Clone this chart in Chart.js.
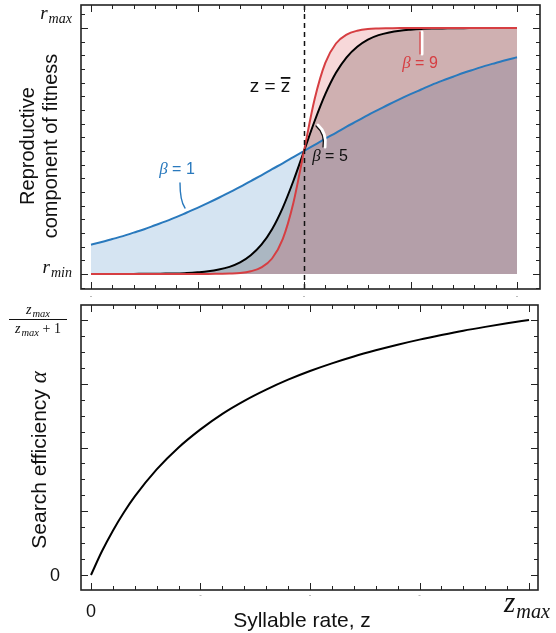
<!DOCTYPE html>
<html>
<head>
<meta charset="utf-8">
<script src="https://cdn.jsdelivr.net/npm/chart.js@4.4.0/dist/chart.umd.min.js"></script>
<style>
  html, body { margin: 0; padding: 0; background: #fff; }
  #wrap { position: relative; width: 556px; height: 633px; }
  canvas { position: absolute; left: 0; }
  #top { top: 0; }
  #bot { top: 300px; }
</style>
</head>
<body>
<div id="wrap">
  <canvas id="top" width="556" height="300"></canvas>
  <canvas id="bot" width="556" height="333"></canvas>
</div>
<script>
// syllable rate, normalised 0 = z=0 .. 1 = zmax
const zTop = [0, 0.025, 0.05, 0.075, 0.1, 0.125, 0.15, 0.175, 0.2, 0.225, 0.25, 0.275, 0.3, 0.325, 0.35, 0.375, 0.4, 0.425, 0.45, 0.475, 0.5,
  0.525, 0.55, 0.575, 0.6, 0.625, 0.65, 0.675, 0.7, 0.725, 0.75, 0.775, 0.8, 0.825, 0.85, 0.875, 0.9, 0.925, 0.95, 0.975, 1];
const zBar = 0.5;

// reproductive component, 0 = r_min .. 1 = r_max
const beta1 = [0.119, 0.130, 0.142, 0.154, 0.168, 0.182, 0.198, 0.214, 0.231, 0.250, 0.269, 0.289, 0.310, 0.332, 0.354, 0.378, 0.401, 0.426, 0.450, 0.475, 0.500,
  0.525, 0.550, 0.574, 0.599, 0.622, 0.646, 0.668, 0.690, 0.711, 0.731, 0.750, 0.769, 0.786, 0.802, 0.818, 0.832, 0.846, 0.858, 0.870, 0.881];
const beta5 = [0.000, 0.000, 0.000, 0.000, 0.000, 0.001, 0.001, 0.002, 0.002, 0.004, 0.007, 0.011, 0.018, 0.029, 0.047, 0.076, 0.119, 0.182, 0.269, 0.378, 0.500,
  0.622, 0.731, 0.818, 0.881, 0.924, 0.953, 0.971, 0.982, 0.989, 0.993, 0.996, 0.998, 0.998, 0.999, 0.999, 1.000, 1.000, 1.000, 1.000, 1.000];
const beta9 = [0.000, 0.000, 0.000, 0.000, 0.000, 0.000, 0.000, 0.000, 0.000, 0.000, 0.000, 0.000, 0.001, 0.002, 0.004, 0.011, 0.027, 0.063, 0.142, 0.289, 0.500,
  0.711, 0.858, 0.937, 0.973, 0.989, 0.996, 0.998, 0.999, 1.000, 1.000, 1.000, 1.000, 1.000, 1.000, 1.000, 1.000, 1.000, 1.000, 1.000, 1.000];

// search efficiency, 0 .. 1 = zmax/(zmax+1)
const zBot = [0, 0.025, 0.05, 0.075, 0.1, 0.15, 0.2, 0.25, 0.3, 0.35, 0.4, 0.45, 0.5, 0.55, 0.6, 0.65, 0.7, 0.75, 0.8, 0.85, 0.9, 0.95, 1];
const alpha = [0, 0.093, 0.174, 0.245, 0.308, 0.414, 0.500, 0.571, 0.632, 0.683, 0.727, 0.766, 0.800, 0.830, 0.857, 0.881, 0.903, 0.923, 0.941, 0.958, 0.973, 0.987, 1.000];

const RED = 'rgb(214,62,66)';
const BLUE = 'rgb(41,121,189)';
const SANS = '"Liberation Sans", Arial, sans-serif';
const SERIF = '"Liberation Serif", "DejaVu Serif", serif';

function pts(xs, ys) { return xs.map((x, i) => ({ x: x, y: ys[i] })); }

function tickList(from, to, step, majorEvery) {
  const out = [];
  for (let i = from; i <= to; i++) out.push({ v: i * step, major: i % majorEvery === 0 });
  return out;
}

function frame(chart, xt, yt) {
  const ctx = chart.ctx, ca = chart.chartArea;
  const xs = chart.scales.x, ys = chart.scales.y;
  ctx.save();
  ctx.strokeStyle = '#222';
  ctx.lineWidth = 1;
  ctx.beginPath();
  xt.forEach(t => {
    const p = Math.round(xs.getPixelForValue(t.v)) + 0.5, l = t.major ? 7 : 4;
    ctx.moveTo(p, ca.bottom); ctx.lineTo(p, ca.bottom - l);
    ctx.moveTo(p, ca.top); ctx.lineTo(p, ca.top + l);
  });
  yt.forEach(t => {
    const p = Math.round(ys.getPixelForValue(t.v)) + 0.5, l = t.major ? 7 : 4;
    ctx.moveTo(ca.left, p); ctx.lineTo(ca.left + l, p);
    ctx.moveTo(ca.right, p); ctx.lineTo(ca.right - l, p);
  });
  ctx.stroke();
  ctx.lineWidth = 1.6;
  ctx.strokeRect(ca.left, ca.top, ca.right - ca.left, ca.bottom - ca.top);
  ctx.restore();
}

// italic math symbol with subscript
function mathSub(ctx, base, sub, x, y, size, align, subScale) {
  const ss = size * (subScale || 0.72);
  ctx.font = 'italic ' + size + 'px ' + SERIF;
  const wb = ctx.measureText(base).width;
  ctx.font = 'italic ' + ss + 'px ' + SERIF;
  const ws = ctx.measureText(sub).width;
  let x0 = x;
  if (align === 'right') x0 = x - wb - ws - 1;
  if (align === 'center') x0 = x - (wb + ws + 1) / 2;
  ctx.textAlign = 'left';
  ctx.textBaseline = 'alphabetic';
  ctx.font = 'italic ' + size + 'px ' + SERIF;
  ctx.fillText(base, x0, y);
  ctx.font = 'italic ' + ss + 'px ' + SERIF;
  ctx.fillText(sub, x0 + wb + 1, y + size * 0.22);
  return wb + ws + 1;
}

function betaLabel(ctx, val, cx, cy, color) {
  ctx.fillStyle = color;
  ctx.textBaseline = 'middle';
  ctx.textAlign = 'left';
  ctx.font = 'italic 17px ' + SERIF;
  const wb = ctx.measureText('\u03b2').width;
  ctx.font = '16px ' + SANS;
  const wr = ctx.measureText(' = ' + val).width;
  const x0 = cx - (wb + wr) / 2;
  ctx.font = 'italic 17px ' + SERIF;
  ctx.fillText('\u03b2', x0, cy);
  ctx.font = '16px ' + SANS;
  ctx.fillText(' = ' + val, x0 + wb, cy);
}

const topPlugin = {
  id: 'topDeco',
  afterDatasetsDraw(chart) {
    const ctx = chart.ctx, ca = chart.chartArea, xs = chart.scales.x;
    ctx.save();
    // z = zbar dashed line
    const xb = Math.round(xs.getPixelForValue(zBar)) + 0.5;
    ctx.strokeStyle = '#111';
    ctx.lineWidth = 1.5;
    ctx.setLineDash([5, 4]);
    ctx.beginPath(); ctx.moveTo(xb, ca.top); ctx.lineTo(xb, ca.bottom); ctx.stroke();
    ctx.setLineDash([]);

    // callouts
    ctx.lineCap = 'round';
    ctx.strokeStyle = BLUE; ctx.lineWidth = 1.4;
    ctx.beginPath(); ctx.moveTo(180, 183); ctx.quadraticCurveTo(180, 201, 185, 208); ctx.stroke();
    ctx.strokeStyle = '#fff'; ctx.lineWidth = 3;
    ctx.beginPath(); ctx.moveTo(318, 125); ctx.quadraticCurveTo(327, 133, 325, 147); ctx.stroke();
    ctx.strokeStyle = '#111'; ctx.lineWidth = 1.2;
    ctx.beginPath(); ctx.moveTo(316, 126); ctx.quadraticCurveTo(325, 134, 323, 147); ctx.stroke();
    ctx.strokeStyle = '#fff'; ctx.lineWidth = 3;
    ctx.beginPath(); ctx.moveTo(422, 32); ctx.lineTo(422, 54); ctx.stroke();
    ctx.strokeStyle = RED; ctx.lineWidth = 1.2;
    ctx.beginPath(); ctx.moveTo(420, 32); ctx.lineTo(420, 54); ctx.stroke();
    ctx.restore();
  },
  afterDraw(chart) {
    const ctx = chart.ctx, xs = chart.scales.x;
    frame(chart, tickList(0, 20, 0.05, 5), tickList(-1, 19, 1 / 18, 18));
    ctx.save();
    ctx.fillStyle = '#111';
    mathSub(ctx, 'r', 'max', 72, 19, 19, 'right', 0.74);
    mathSub(ctx, 'r', 'min', 72, 273, 19, 'right', 0.74);

    // y title
    ctx.save();
    ctx.translate(28, 146);
    ctx.rotate(-Math.PI / 2);
    ctx.font = '20px ' + SANS;
    ctx.textAlign = 'center';
    ctx.textBaseline = 'middle';
    ctx.fillText('Reproductive', 0, 0);
    ctx.fillText('component of fitness', 0, 23);
    ctx.restore();

    // z = zbar
    ctx.font = '19px ' + SANS;
    ctx.textBaseline = 'alphabetic';
    ctx.textAlign = 'left';
    const s1 = 'z = ';
    const w1 = ctx.measureText(s1).width, w2 = ctx.measureText('z').width;
    const x0 = 270 - (w1 + w2) / 2;
    ctx.fillText(s1, x0, 92);
    ctx.fillText('z', x0 + w1, 92);
    ctx.fillRect(x0 + w1, 77, w2, 1.8);

    betaLabel(ctx, '1', 177, 170, BLUE);
    betaLabel(ctx, '5', 330, 157, '#111');
    betaLabel(ctx, '9', 420, 64, RED);

    // faint tick-label remnants
    ctx.fillStyle = '#bbb';
    [0, 0.5, 1].forEach(v => ctx.fillRect(xs.getPixelForValue(v) - 1, 296, 2, 1));
    ctx.restore();
  }
};

const botPlugin = {
  id: 'botDeco',
  afterDraw(chart) {
    const ctx = chart.ctx, xs = chart.scales.x, ys = chart.scales.y;
    frame(chart, tickList(0, 20, 0.05, 5), tickList(0, 16, 1 / 16, 4));
    ctx.save();
    ctx.fillStyle = '#111';
    // y tick labels: zmax / (zmax + 1)
    const yTop = ys.getPixelForValue(1);
    ctx.fillRect(9, yTop - 1, 58, 1);
    mathSub(ctx, 'z', 'max', 38, yTop - 6, 14, 'center', 0.75);
    const w = mathSub(ctx, 'z', 'max', 0, -100, 14, 'left', 0.75);
    ctx.font = '14px ' + SERIF;
    const wp = ctx.measureText(' + 1').width;
    const dx = 38 - (w + wp) / 2;
    mathSub(ctx, 'z', 'max', dx, yTop + 13, 14, 'left', 0.75);
    ctx.font = '14px ' + SERIF;
    ctx.fillText(' + 1', dx + w, yTop + 13);

    ctx.font = '18px ' + SANS;
    ctx.textAlign = 'right';
    ctx.textBaseline = 'middle';
    ctx.fillText('0', 60, ys.getPixelForValue(0) + 1);

    // x tick labels
    ctx.textAlign = 'center';
    ctx.fillText('0', xs.getPixelForValue(0), 312);
    mathSub(ctx, 'z', 'max', 527, 312, 29, 'center', 0.7);

    // titles
    ctx.font = '21px ' + SANS;
    ctx.textAlign = 'center';
    ctx.textBaseline = 'middle';
    ctx.fillText('Syllable rate, z', 302, 321);
    ctx.save();
    ctx.translate(40, 160);
    ctx.rotate(-Math.PI / 2);
    ctx.textAlign = 'left';
    const t = 'Search efficiency ';
    ctx.font = '21px ' + SANS;
    const wt = ctx.measureText(t).width;
    ctx.font = 'italic 23px ' + SERIF;
    const wa = ctx.measureText('\u03b1').width;
    ctx.font = '21px ' + SANS;
    ctx.fillText(t, -(wt + wa) / 2, 0);
    ctx.font = 'italic 23px ' + SERIF;
    ctx.fillText('\u03b1', -(wt + wa) / 2 + wt, 0);
    ctx.restore();

    ctx.fillStyle = '#bbb';
    [0.25, 0.5, 0.75].forEach(v => ctx.fillRect(xs.getPixelForValue(v) - 1, 295, 2, 1));
    ctx.restore();
  }
};

function hiddenScale(min, max, fit) {
  return {
    type: 'linear', min: min, max: max, display: true,
    grid: { display: false }, border: { display: false }, ticks: { display: false },
    afterFit: fit
  };
}

new Chart(document.getElementById('top'), {
  type: 'line',
  data: {
    datasets: [
      { label: 'beta = 9', data: pts(zTop, beta9), borderColor: RED, backgroundColor: 'rgba(214,62,66,0.2)', fill: { value: 0 } },
      { label: 'beta = 5', data: pts(zTop, beta5), borderColor: '#000', backgroundColor: 'rgba(0,0,0,0.2)', fill: { value: 0 } },
      { label: 'beta = 1', data: pts(zTop, beta1), borderColor: BLUE, backgroundColor: 'rgba(46,120,190,0.2)', fill: { value: 0 } }
    ]
  },
  options: {
    responsive: false, animation: false, devicePixelRatio: 1,
    layout: { padding: { top: 5, right: 16, left: 0, bottom: 0 } },
    elements: { point: { radius: 0 }, line: { borderWidth: 2, cubicInterpolationMode: 'monotone' } },
    plugins: { legend: { display: false }, tooltip: { enabled: false }, filler: { drawTime: 'beforeDatasetsDraw' } },
    scales: {
      x: hiddenScale(-0.0235, 1.054, s => { s.height = 11; }),
      y: hiddenScale(-0.061, 1.0935, s => { s.width = 81; })
    }
  },
  plugins: [topPlugin]
});

new Chart(document.getElementById('bot'), {
  type: 'line',
  data: {
    datasets: [
      { label: 'alpha', data: pts(zBot, alpha), borderColor: '#000', fill: false }
    ]
  },
  options: {
    responsive: false, animation: false, devicePixelRatio: 1,
    layout: { padding: { top: 5, right: 18, left: 0, bottom: 0 } },
    elements: { point: { radius: 0 }, line: { borderWidth: 2, cubicInterpolationMode: 'monotone' } },
    plugins: { legend: { display: false }, tooltip: { enabled: false } },
    scales: {
      x: hiddenScale(-0.0228, 1.0205, s => { s.height = 43; }),
      y: hiddenScale(-0.0588, 1.0588, s => { s.width = 81; })
    }
  },
  plugins: [botPlugin]
});
</script>
</body>
</html>
